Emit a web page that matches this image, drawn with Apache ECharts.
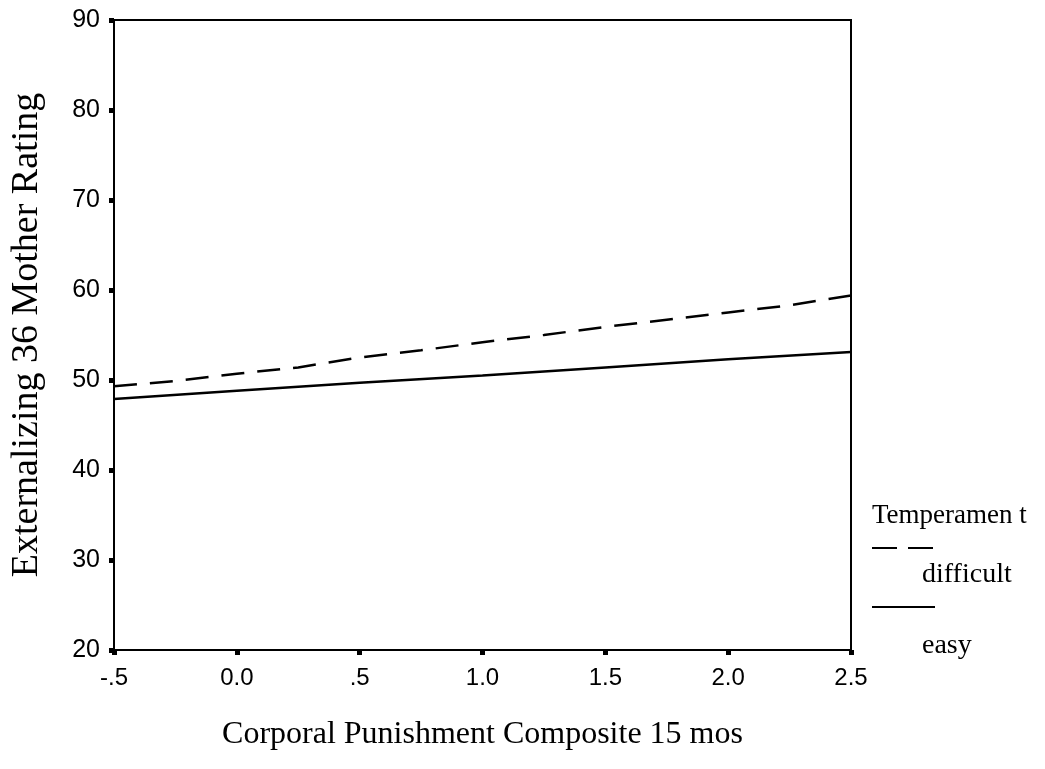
<!DOCTYPE html>
<html>
<head>
<meta charset="utf-8">
<script src="https://cdn.jsdelivr.net/npm/echarts@6/dist/echarts.min.js"></script>
<style>
  html, body { margin: 0; padding: 0; background: #fff; }
  #main { width: 1045px; height: 769px; }
</style>
</head>
<body>
<div id="main"></div>
<script>
// values
var xTickLabels = ['-.5', '0.0', '.5', '1.0', '1.5', '2.0', '2.5'];
var difficultX = [-0.5, -0.25, 0, 0.25, 0.5, 0.75, 1.0, 1.25, 1.5, 1.75, 2.0, 2.25, 2.5];
var difficultY = [49.3, 49.9, 50.7, 51.4, 52.5, 53.3, 54.2, 55.0, 55.9, 56.7, 57.5, 58.3, 59.4];
var easyX = [-0.5, 0, 0.5, 1.0, 1.5, 2.0, 2.5];
var easyY = [47.9, 48.8, 49.7, 50.5, 51.4, 52.3, 53.1];

function pairs(xs, ys) {
  var out = [];
  for (var i = 0; i < xs.length; i++) out.push([xs[i], ys[i]]);
  return out;
}

var myChart = echarts.init(document.getElementById('main'));

var option = {
  animation: false,
  backgroundColor: '#fff',
  grid: {
    left: 113,
    right: 194,
    top: 20,
    bottom: 119,
    show: true,
    borderColor: '#000',
    borderWidth: 2
  },
  xAxis: {
    type: 'value',
    min: -0.5,
    max: 2.5,
    interval: 0.5,
    name: 'Corporal Punishment Composite 15 mos',
    nameLocation: 'middle',
    nameGap: 69,
    nameTextStyle: { fontFamily: 'Liberation Serif', fontSize: 32, color: '#000' },
    axisLine: { onZero: false, lineStyle: { color: '#000', width: 2 } },
    axisTick: { length: 5, lineStyle: { color: '#000', width: 5 } },
    axisLabel: {
      margin: 16,
      fontFamily: 'Liberation Sans',
      fontSize: 24,
      color: '#000',
      formatter: function (v) {
        return xTickLabels[Math.round((v + 0.5) / 0.5)];
      }
    },
    splitLine: { show: false }
  },
  yAxis: {
    type: 'value',
    min: 20,
    max: 90,
    interval: 10,
    name: 'Externalizing 36 Mother Rating',
    nameLocation: 'middle',
    nameGap: 68,
    nameTextStyle: { fontFamily: 'Liberation Serif', fontSize: 38, color: '#000' },
    axisLine: { onZero: false, lineStyle: { color: '#000', width: 2 } },
    axisTick: { length: 5, lineStyle: { color: '#000', width: 5 } },
    axisLabel: { margin: 14, fontFamily: 'Liberation Sans', fontSize: 25, color: '#000' },
    splitLine: { show: false }
  },
  series: [
    {
      name: 'difficult',
      type: 'line',
      data: pairs(difficultX, difficultY),
      showSymbol: false,
      lineStyle: { color: '#000', width: 2.5, type: [23, 13] }
    },
    {
      name: 'easy',
      type: 'line',
      data: pairs(easyX, easyY),
      showSymbol: false,
      lineStyle: { color: '#000', width: 2.5 }
    }
  ],
  // legend drawn as in the original: swatch above, label below and indented
  graphic: [
    { type: 'text', left: 872, top: 502, style: { text: 'Temperamen t', font: '27px "Liberation Serif"', fill: '#000' } },
    { type: 'line', shape: { x1: 872, y1: 548, x2: 934, y2: 548 }, style: { stroke: '#000', lineWidth: 2, lineDash: [25, 11] } },
    { type: 'text', left: 922, top: 561, style: { text: 'difficult', font: '28px "Liberation Serif"', fill: '#000' } },
    { type: 'line', shape: { x1: 872, y1: 607, x2: 935, y2: 607 }, style: { stroke: '#000', lineWidth: 2 } },
    { type: 'text', left: 922, top: 632, style: { text: 'easy', font: '28px "Liberation Serif"', fill: '#000' } }
  ]
};

myChart.setOption(option);
</script>
</body>
</html>
